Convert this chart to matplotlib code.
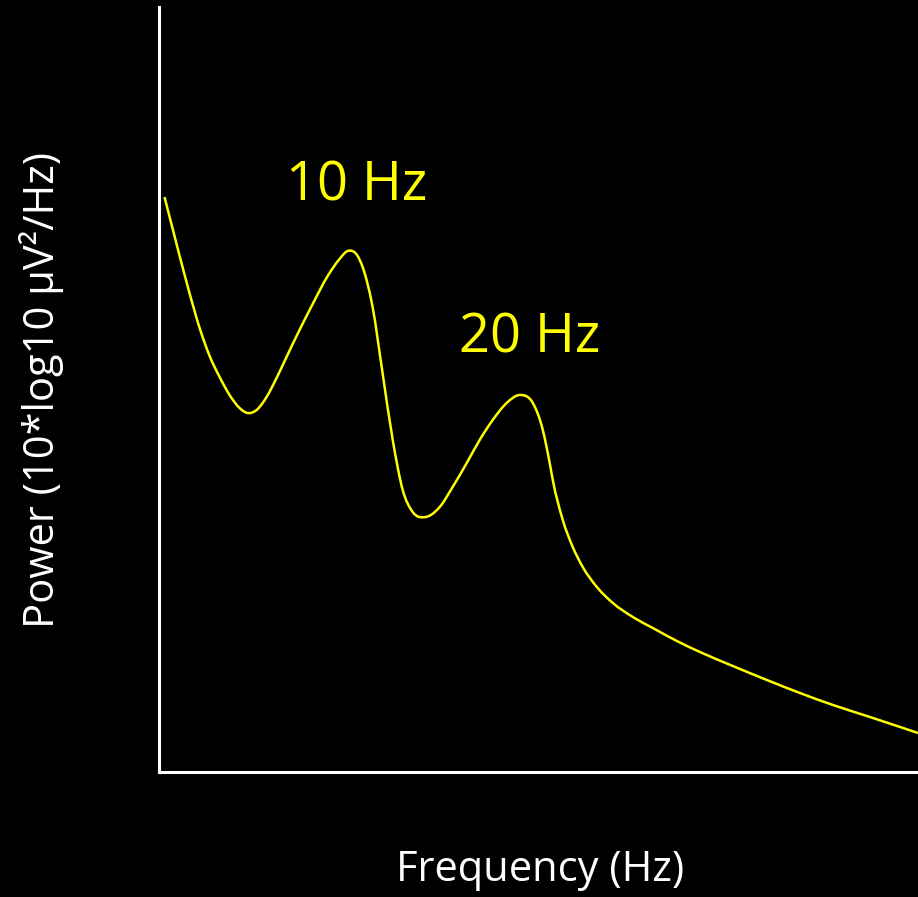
import numpy as np
import matplotlib
matplotlib.use("Agg")
import matplotlib.pyplot as plt
from matplotlib.path import Path
from matplotlib.patches import PathPatch

plt.rcParams['font.family'] = ['Open Sans', 'DejaVu Sans']

# Power spectrum with alpha (10 Hz) and beta (20 Hz) peaks
freq_hz = [-0.64, -0.06, 0.70, 1.40, 1.98, 2.56, 3.14, 3.72, 4.19, 4.71,
           5.29, 5.87, 6.45, 7.09, 7.91, 8.84, 9.53, 10.00, 10.58, 10.87,
           11.45, 12.03, 12.62, 13.20, 13.78, 14.53, 15.35, 16.10, 16.92, 17.67,
           18.43, 19.24, 20.00, 20.76, 21.34, 21.74, 21.92, 22.50, 23.08, 23.66,
           24.48, 25.41, 26.57, 27.73, 29.13, 30.47, 32.38, 34.36, 36.28, 38.20,
           40.17, 43.14]
power_db = [57.5, 53.6, 48.6, 44.4, 41.6, 39.5, 37.7, 36.4, 35.9, 36.2,
            37.5, 39.4, 41.5, 43.8, 46.6, 49.6, 51.3, 52.1, 51.6, 50.5,
            46.5, 39.9, 33.2, 28.2, 26.0, 25.5, 26.5, 28.5, 30.9, 33.2,
            35.2, 36.9, 37.7, 36.9, 34.2, 30.9, 29.2, 25.2, 22.5, 20.5,
            18.5, 16.9, 15.5, 14.4, 13.1, 12.0, 10.6, 9.2, 7.9, 6.7,
            5.6, 3.9]
peak_labels = ["10 Hz", "20 Hz"]
peak_label_pos = [(10.52, 58.6), (20.58, 43.4)]

fig = plt.figure(figsize=(9.18, 8.97), dpi=100, facecolor='black')
ax = fig.add_axes([158.5 / 918, 1 - 772 / 897, 1 - 158.5 / 918, 765 / 897])
ax.set_facecolor('black')
ax.set_xlim(-0.99, 43.14)
ax.set_ylim(0, 76.5)

# Smooth curve: cubic Hermite segments (as Bezier curves) with weighted slopes
x = np.array(freq_hz)
y = np.array(power_db)
h = np.diff(x)
d = np.diff(y) / h
m = np.empty_like(y)
m[0] = d[0]
m[-1] = d[-1]
m[1:-1] = (h[1:] * d[:-1] + h[:-1] * d[1:]) / (h[:-1] + h[1:])
verts = [(x[0], y[0])]
codes = [Path.MOVETO]
for i in range(len(x) - 1):
    dx = h[i] / 3.0
    verts += [(x[i] + dx, y[i] + m[i] * dx),
              (x[i + 1] - dx, y[i + 1] - m[i + 1] * dx),
              (x[i + 1], y[i + 1])]
    codes += [Path.CURVE4] * 3
curve = PathPatch(Path(verts, codes), facecolor='none', edgecolor='#FFFF00',
                  lw=1.8, transform=ax.transData, clip_on=False)
ax.add_patch(curve)

for text, (tx, ty) in zip(peak_labels, peak_label_pos):
    ax.text(tx, ty, text, color='#FFFF00', fontsize=39, ha='center', va='center')

for side in ['top', 'right']:
    ax.spines[side].set_visible(False)
for side in ['left', 'bottom']:
    ax.spines[side].set_color('white')
    ax.spines[side].set_linewidth(2.2)
ax.set_xticks([])
ax.set_yticks([])

fig.text(540 / 918, 1 - 870 / 897, "Frequency (Hz)", color='white', fontsize=30,
         ha='center', va='center')
fig.text(42 / 918, 1 - 390 / 897, "Power (10*log10 µV²/Hz)", color='white',
         fontsize=30, ha='center', va='center', rotation=90)

fig.savefig("out.png", dpi=100, facecolor='black')
